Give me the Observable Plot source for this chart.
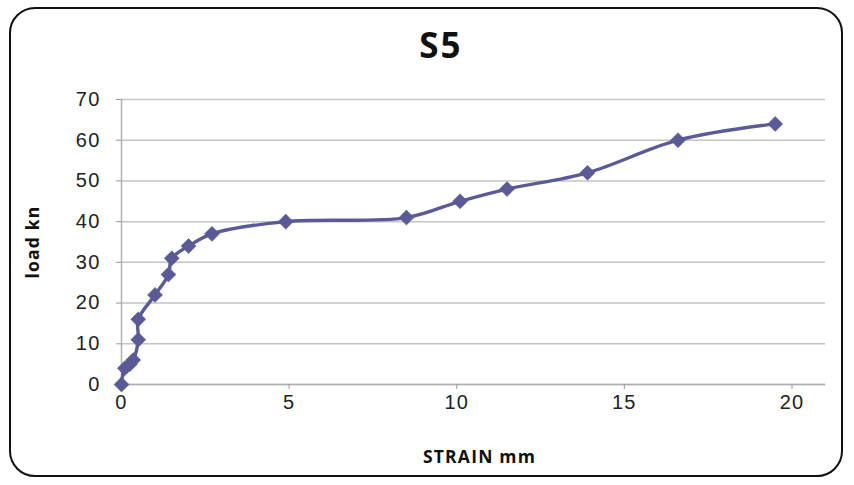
<!DOCTYPE html>
<html>
<head>
<meta charset="utf-8">
<script src="https://cdn.jsdelivr.net/npm/d3@7"></script>
<script src="https://cdn.jsdelivr.net/npm/@observablehq/plot@0.6"></script>
<style>
  html, body { margin: 0; padding: 0; background: #fff; }
  #frame { position: relative; width: 854px; height: 485px; overflow: hidden; }
  #border {
    position: absolute; left: 9px; top: 7px; width: 834px; height: 470px;
    border: 2.5px solid #111; border-radius: 26px; box-sizing: border-box;
  }
  #title {
    position: absolute; left: 0; width: 882px; top: 21px; text-align: center;
    font: bold 35px "Open Sans", sans-serif; letter-spacing: 2px; color: #111;
  }
  #chart { position: absolute; left: 0; top: 0; }
  #chart svg { overflow: visible; }
</style>
</head>
<body>
<div id="frame">
  <div id="border"></div>
  <div id="title">S5</div>
  <div id="chart"></div>
</div>
<script>
// Load–strain readings for specimen S5
const strain = [0, 0.1, 0.25, 0.35, 0.5, 0.5, 1.0, 1.4, 1.5, 2.0, 2.7, 4.9, 8.5, 10.1, 11.5, 13.9, 16.6, 19.5];
const load   = [0, 4,   5,    6,    11,  16,  22,  27,  31,  34,  37,  40,  41,  45,   48,   52,   60,   64];
const xTicks = [0, 5, 10, 15, 20];
const yTicks = [0, 10, 20, 30, 40, 50, 60, 70];

const rows = strain.map((s, i) => ({strain: s, load: load[i]}));
const lineColor = "#5a5a96";

// square diamond marker (equal width and height)
const squareDiamond = {
  draw(context, size) {
    const r = Math.sqrt(size / 2);
    context.moveTo(0, -r);
    context.lineTo(r, 0);
    context.lineTo(0, r);
    context.lineTo(-r, 0);
    context.closePath();
  }
};

const tickFont = {fontFamily: "'Liberation Sans', Arial, sans-serif", fontSize: 20};

const plot = Plot.plot({
  width: 854,
  height: 485,
  marginLeft: 121,
  marginRight: 29,
  marginTop: 99,
  marginBottom: 101,
  style: {fontFamily: "'Liberation Sans', Arial, sans-serif", fontSize: "20px", color: "#222", background: "transparent", letterSpacing: "1.2px"},
  x: {domain: [0, 21], label: null},
  y: {domain: [0, 70], label: null},
  marks: [
    Plot.gridY(yTicks, {stroke: "#c4c4c4", strokeOpacity: 1, strokeWidth: 1.5}),
    Plot.ruleX([0], {stroke: "#b0b0b0", strokeWidth: 1.5}),
    Plot.ruleY([0], {stroke: "#b0b0b0", strokeWidth: 1.5}),
    Plot.axisX({ticks: xTicks, tickSize: 5, tickPadding: 5, stroke: "#999", fill: "#222", label: null, ...tickFont}),
    Plot.axisY({ticks: yTicks, tickSize: 5, tickPadding: 16, stroke: "#999", fill: "#222", label: null, ...tickFont}),
    Plot.line(rows, {x: "strain", y: "load", curve: "catmull-rom", stroke: lineColor, strokeWidth: 3.4}),
    Plot.dot(rows, {x: "strain", y: "load", symbol: squareDiamond, r: 6, fill: lineColor, stroke: lineColor, strokeWidth: 0.5}),
    // axis titles
    Plot.text(["STRAIN mm"], {frameAnchor: "bottom", dx: 6, dy: 78, text: d => d, fontFamily: "'Open Sans', sans-serif", fontWeight: "bold", fontSize: 17.5, fill: "#111"}),
    Plot.text(["load kn"], {frameAnchor: "left", textAnchor: "middle", dx: -88, rotate: -90, text: d => d, fontFamily: "'Open Sans', sans-serif", fontWeight: "bold", fontSize: 17.5, fill: "#111"})
  ]
});
document.getElementById("chart").appendChild(plot);
</script>
</body>
</html>
